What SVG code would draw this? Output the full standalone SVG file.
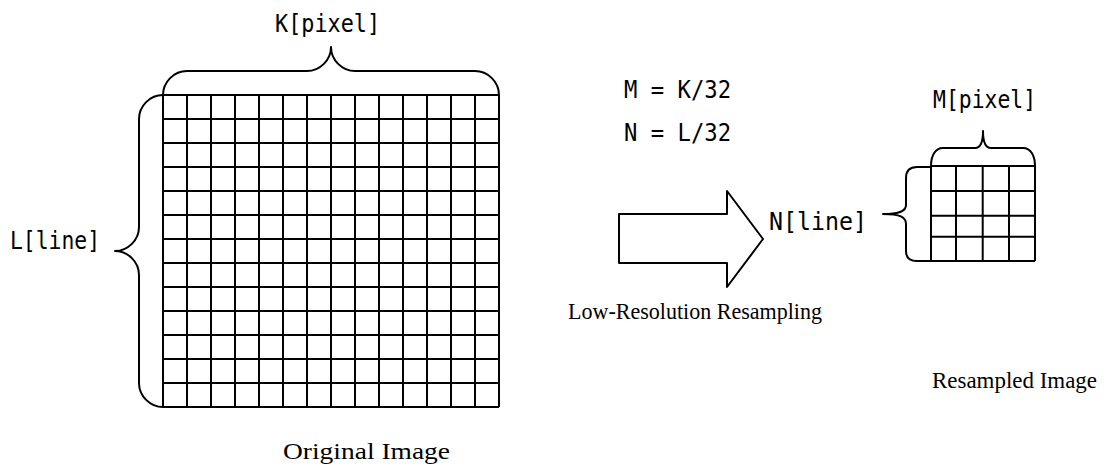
<svg xmlns="http://www.w3.org/2000/svg" width="1106" height="470" viewBox="0 0 1106 470">
<style>
.g{stroke:#000;stroke-width:2;fill:none}
.b{stroke:#000;stroke-width:2;fill:none;stroke-linejoin:round}
.m{font-family:"DejaVu Sans Mono","Liberation Mono",monospace;font-size:24px;fill:#000}
.s{font-family:"Liberation Serif","DejaVu Serif",serif;font-size:24px;fill:#000}
</style>
<rect width="1106" height="470" fill="#fff"/>
<g id="original-image">
<path class="g" d="M163,95H499M163,119H499M163,143H499M163,167H499M163,191H499M163,215H499M163,239H499M163,263H499M163,287H499M163,311H499M163,335H499M163,359H499M163,383H499M163,407H499
M163,95V407M187,95V407M211,95V407M235,95V407M259,95V407M283,95V407M307,95V407M331,95V407M355,95V407M379,95V407M403,95V407M427,95V407M451,95V407M475,95V407M499,95V407"/>
<path class="b" d="M163,95 C163,82 174,71 187,71 L307,71 C320,71 331,60 331,47 C331,60 342,71 355,71 L475,71 C488,71 499,82 499,95"/>
<path class="b" d="M163,95 C150,95 139,106 139,119 L139,227 C139,240 128,251 115,251 C128,251 139,262 139,275 L139,383 C139,396 150,407 163,407"/>
<text class="m" x="275" y="32" textLength="105" lengthAdjust="spacingAndGlyphs">K[pixel]</text>
<text class="m" x="10" y="249" textLength="90" lengthAdjust="spacingAndGlyphs">L[line]</text>
<text class="s" x="283" y="459" textLength="167" lengthAdjust="spacingAndGlyphs">Original Image</text>
</g>
<g id="formulas">
<text class="m" x="624" y="98" textLength="107" lengthAdjust="spacingAndGlyphs">M = K/32</text>
<text class="m" x="624" y="141" textLength="107" lengthAdjust="spacingAndGlyphs">N = L/32</text>
</g>
<g id="connectors">
<path class="b" d="M619,214 L727,214 L727,191 L763,239 L727,287 L727,263 L619,263 Z"/>
<text class="s" x="568" y="319" textLength="254" lengthAdjust="spacingAndGlyphs">Low-Resolution Resampling</text>
</g>
<g id="resampled-image">
<path class="g" d="M931,166H1035M931,191H1035M931,215.7H1035M931,236.7H1035M931,261H1035M931,166V261M956,166V261M982.7,166V261M1009,166V261M1035,166V261"/>
<path class="b" d="M931,166 C931,156 935,148 943,148 L975,148 C980,148 983,143 983,131 C983,143 986,148 991,148 L1023,148 C1031,148 1035,156 1035,166"/>
<path class="b" d="M931,167 L917,167 C910,167 906,171 906,178 L906,205 C906,211 900,214 883,214 C900,214 906,217 906,224 L906,251 C906,258 910,261 917,261 L931,261"/>
<text class="m" x="933" y="108" textLength="103" lengthAdjust="spacingAndGlyphs">M[pixel]</text>
<text class="m" x="769" y="230" textLength="98" lengthAdjust="spacingAndGlyphs">N[line]</text>
<text class="s" x="932" y="388" textLength="165" lengthAdjust="spacingAndGlyphs">Resampled Image</text>
</g>
</svg>
